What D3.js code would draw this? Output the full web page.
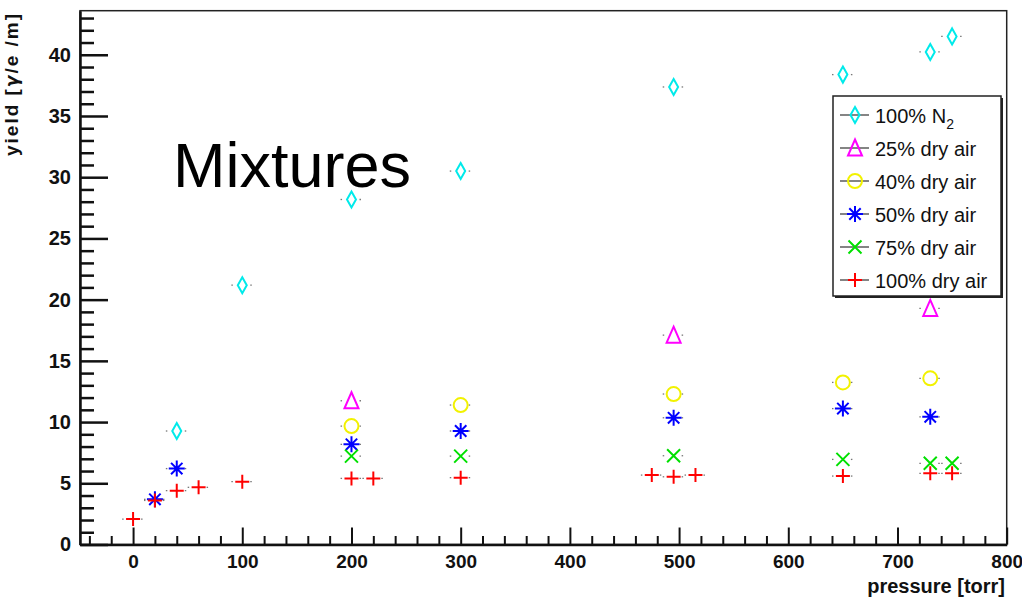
<!DOCTYPE html>
<html>
<head>
<meta charset="utf-8">
<script src="https://cdn.jsdelivr.net/npm/d3@7"></script>
<style>
  body { margin: 0; background: #fff; }
  svg { display: block; }
  text { font-family: "Liberation Sans", Arial, Helvetica, sans-serif; }
</style>
</head>
<body>
<svg id="chart" width="1022" height="600"></svg>
<script>
// Scintillation yield vs. pressure for N2 / dry-air mixtures
const pressureN2 = [40, 100, 200, 300, 495, 650, 730, 750];
const yieldN2    = [9.27, 21.18, 28.18, 30.5, 37.37, 38.38, 40.23, 41.5];

const pressureAir25 = [200, 495, 730];
const yieldAir25    = [11.74, 17.1, 19.28];

const pressureAir40 = [200, 300, 495, 650, 730];
const yieldAir40    = [9.67, 11.39, 12.29, 13.24, 13.57];

const pressureAir50 = [20, 40, 200, 300, 495, 650, 730];
const yieldAir50    = [3.69, 6.2, 8.18, 9.27, 10.35, 11.1, 10.43];

const pressureAir75 = [200, 300, 495, 650, 730, 750];
const yieldAir75    = [7.22, 7.22, 7.25, 6.95, 6.63, 6.63];

const pressureAir100 = [0, 20, 40, 60, 100, 200, 220, 300, 475, 495, 515, 650, 730, 750];
const yieldAir100    = [2.08, 3.6, 4.4, 4.67, 5.13, 5.4, 5.4, 5.46, 5.67, 5.53, 5.67, 5.59, 5.81, 5.81];

const pressureErr = 10; // torr, horizontal error half-width

const xTickValues = [0, 100, 200, 300, 400, 500, 600, 700, 800];
const yTickValues = [0, 5, 10, 15, 20, 25, 30, 35, 40];

const seriesNames   = ["100% N", "25% dry air", "40% dry air", "50% dry air", "75% dry air", "100% dry air"];
const seriesColors  = ["#00eaea", "#ff00ff", "#f2f200", "#0000ff", "#00e000", "#ff0000"];
const seriesMarkers = ["diamond", "triangle", "circle", "star", "cross", "plus"];
const seriesX = [pressureN2, pressureAir25, pressureAir40, pressureAir50, pressureAir75, pressureAir100];
const seriesY = [yieldN2, yieldAir25, yieldAir40, yieldAir50, yieldAir75, yieldAir100];

const series = seriesNames.map((name, i) => ({
  name, color: seriesColors[i], marker: seriesMarkers[i],
  points: seriesX[i].map((p, j) => ({ p, v: seriesY[i][j] }))
}));

const svg = d3.select("#chart");
const plotLeft = 80, plotRight = 1006.7, plotTop = 10.7, plotBottom = 544.5;

const x = d3.scaleLinear().domain([-48.6, 800]).range([plotLeft, plotRight]);
const y = d3.scaleLinear().domain([0, 43.6]).range([plotBottom, plotTop]);

// marker shapes, centred on the origin
const markerPaths = {
  diamond:  "M0,-8L4.5,0L0,8L-4.5,0Z",
  triangle: "M0,-8.5L7,7.5L-7,7.5Z",
  star:     "M-8,0H8M0,-8V8M-5.7,-5.7L5.7,5.7M-5.7,5.7L5.7,-5.7",
  cross:    "M-6.5,-6.5L6.5,6.5M-6.5,6.5L6.5,-6.5",
  plus:     "M-7,0H7M0,-7V7"
};

function drawMarker(sel, s) {
  if (s.marker === "circle") {
    sel.append("circle").attr("r", 7).attr("fill", "none")
      .attr("stroke", s.color).attr("stroke-width", 2);
  } else {
    sel.append("path").attr("d", markerPaths[s.marker]).attr("fill", "none")
      .attr("stroke", s.color).attr("stroke-width", 2).attr("stroke-linejoin", "miter");
  }
  if (s.marker === "star") {
    sel.append("circle").attr("r", 2).attr("fill", s.color);
  }
}

// frame
svg.append("rect").attr("x", plotLeft).attr("y", plotTop)
  .attr("width", plotRight - plotLeft).attr("height", plotBottom - plotTop)
  .attr("fill", "none").attr("stroke", "#222").attr("stroke-width", 1.5);

// x axis (ticks point inward)
const xMinor = d3.range(-40, 801, 20).filter(v => v % 100 !== 0);
svg.append("g").attr("transform", `translate(0,${plotBottom})`)
  .call(d3.axisBottom(x).tickValues(xMinor).tickSize(-8.5).tickSizeOuter(0).tickFormat(""))
  .call(g => g.select(".domain").remove())
  .call(g => g.selectAll("line").attr("stroke", "#111").attr("stroke-width", 2));
svg.append("g").attr("transform", `translate(0,${plotBottom})`)
  .call(d3.axisBottom(x).tickValues(xTickValues).tickSize(-17).tickSizeOuter(0).tickPadding(10).tickFormat(d3.format("d")))
  .call(g => g.select(".domain").attr("stroke", "#111").attr("stroke-width", 2.5))
  .call(g => g.selectAll("line").attr("stroke", "#111").attr("stroke-width", 2))
  .call(g => g.selectAll("text").attr("font-size", 19).attr("font-weight", "bold").attr("fill", "#111")
    .attr("font-family", "'Liberation Sans', Arial, sans-serif"));

// y axis
const yMinor = d3.range(0, 44, 1).filter(v => v % 5 !== 0);
svg.append("g").attr("transform", `translate(${plotLeft},0)`)
  .call(d3.axisLeft(y).tickValues(yMinor).tickSize(-14).tickSizeOuter(0).tickFormat(""))
  .call(g => g.select(".domain").remove())
  .call(g => g.selectAll("line").attr("stroke", "#111").attr("stroke-width", 2.5));
svg.append("g").attr("transform", `translate(${plotLeft},0)`)
  .call(d3.axisLeft(y).tickValues(yTickValues).tickSize(-28).tickSizeOuter(0).tickPadding(9).tickFormat(d3.format("d")))
  .call(g => g.select(".domain").attr("stroke", "#111").attr("stroke-width", 2.5))
  .call(g => g.selectAll("line").attr("stroke", "#111").attr("stroke-width", 2.5))
  .call(g => g.selectAll("text").attr("font-size", 20).attr("font-weight", "bold").attr("fill", "#111")
    .attr("font-family", "'Liberation Sans', Arial, sans-serif"));

// axis titles
svg.append("text").attr("x", 1005).attr("y", 593).attr("text-anchor", "end")
  .attr("font-size", 20).attr("font-weight", "bold").attr("fill", "#111")
  .text("pressure [torr]");
const yTitle = svg.append("text").attr("transform", "translate(18,14) rotate(-90)").attr("text-anchor", "end")
  .attr("font-size", 19).attr("font-weight", "bold").attr("fill", "#111")
  .attr("textLength", 142).attr("lengthAdjust", "spacing");
yTitle.append("tspan").text("yield [");
yTitle.append("tspan").attr("font-style", "italic").attr("font-family", "'DejaVu Sans', sans-serif").attr("font-size", 17).text("γ");
yTitle.append("tspan").text("/e /m]");

// panel label
svg.append("text").attr("x", 173).attr("y", 187).attr("font-size", 63).attr("fill", "#000")
  .text("Mixtures");

// horizontal error bars (visible outside the marker only)
const errG = svg.append("g");
series.forEach(s => {
  s.points.forEach(d => {
    const cx = x(d.p), cy = y(d.v);
    const xl = x(d.p - pressureErr), xr = x(d.p + pressureErr);
    [[xl, cx - 8], [cx + 8, xr]].forEach(([a, b]) => {
      errG.append("line").attr("x1", a).attr("x2", b).attr("y1", cy).attr("y2", cy)
        .attr("stroke", "#777").attr("stroke-width", 1.3).attr("stroke-dasharray", "1.5,1.5");
    });
  });
});

// markers
series.forEach(s => {
  svg.append("g").selectAll("g").data(s.points).join("g")
    .attr("transform", d => `translate(${x(d.p)},${y(d.v)})`)
    .each(function () { drawMarker(d3.select(this), s); });
});

// legend
const lg = svg.append("g");
const lx = 833, ly = 96, lw = 168, lh = 200;
lg.append("rect").attr("x", lx + 2).attr("y", ly + 2).attr("width", lw).attr("height", lh).attr("fill", "#222");
lg.append("rect").attr("x", lx).attr("y", ly).attr("width", lw).attr("height", lh)
  .attr("fill", "#fff").attr("stroke", "#222").attr("stroke-width", 1.5);
series.forEach((s, i) => {
  const cy = 115 + i * 33;
  const row = lg.append("g");
  row.append("line").attr("x1", 840).attr("x2", 869).attr("y1", cy).attr("y2", cy)
    .attr("stroke", "#333").attr("stroke-width", 1.2);
  drawMarker(row.append("g").attr("transform", `translate(855,${cy})`), s);
  const t = row.append("text").attr("x", 875).attr("y", cy + 7.5).attr("font-size", 20).attr("fill", "#111")
    .text(s.name);
  if (i === 0) t.append("tspan").attr("dy", 6).attr("font-size", 14).text("2");
});
</script>
</body>
</html>
